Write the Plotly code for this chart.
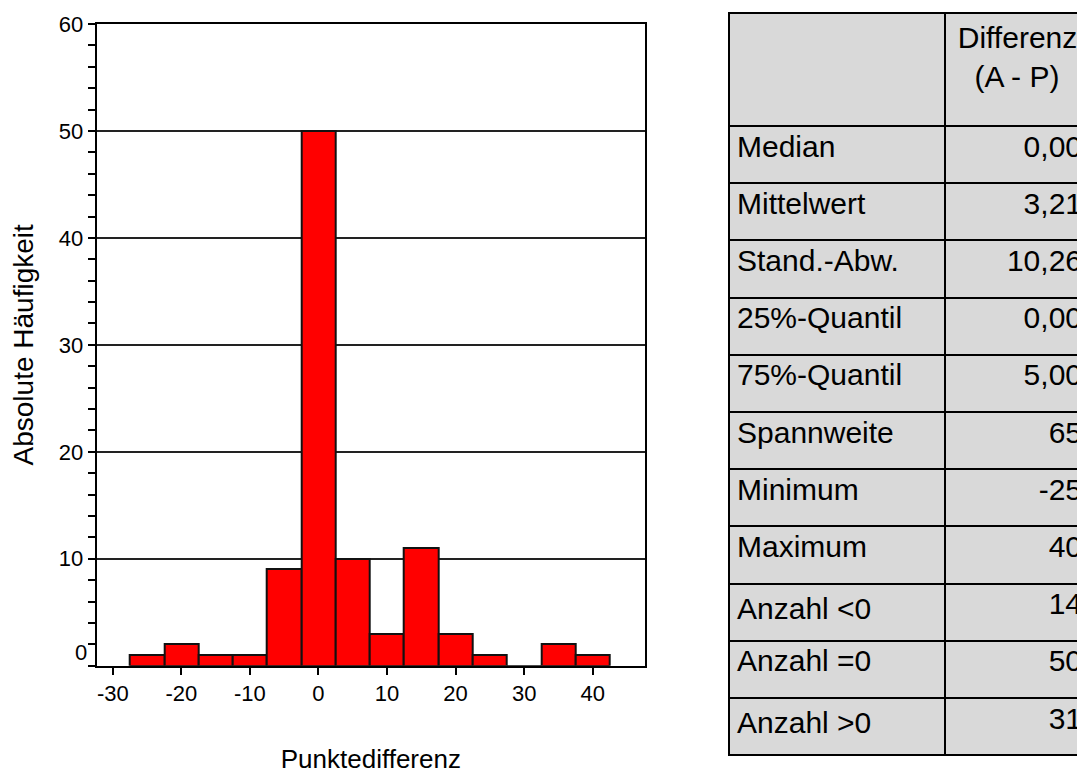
import plotly.graph_objects as go

# Histogram data (bin centres, width 5)
bin_centers = [-25, -20, -15, -10, -5, 0, 5, 10, 15, 20, 25, 30, 35, 40]
counts = [1, 2, 1, 1, 9, 50, 10, 3, 11, 3, 1, 0, 2, 1]
bin_width = 5

x_ticks = [-30, -20, -10, 0, 10, 20, 30, 40]
x_ticktext = ["-30", "-20", "-10", "0", "10", "20", "30", "40"]
y_major = [10, 20, 30, 40, 50, 60]

# Statistics table
stat_labels = ["Median", "Mittelwert", "Stand.-Abw.", "25%-Quantil", "75%-Quantil",
               "Spannweite", "Minimum", "Maximum", "Anzahl &lt;0", "Anzahl =0", "Anzahl &gt;0"]
stat_values = ["0,00", "3,21", "10,26", "0,00", "5,00", "65", "-25", "40", "14", "50", "31"]
table_header = ["", "Differenz<br>\u00a0\u00a0(A - P)"]

FONT = "Arial, Liberation Sans, sans-serif"
# The page body has an 8px margin: figure coords = viewport coords - 8
OFF = 8
W, H = 1082, 766


def px(xv):
    return (xv - OFF) / W


def py(yv):
    return 1 - (yv - OFF) / H


fig = go.Figure()
fig.add_trace(go.Bar(
    x=bin_centers, y=counts, width=[bin_width] * len(bin_centers),
    marker=dict(color="#ff0000", line=dict(color="#111111", width=2)),
    showlegend=False, hoverinfo="x+y",
))

fig.add_trace(go.Table(
    domain=dict(x=[px(729), 1.0], y=[0.0, py(13)]),
    columnwidth=[216, 145],
    header=dict(values=table_header, height=113, fill_color="#d9d9d9",
                line=dict(color="black", width=2), align=["left", "center"],
                font=dict(family=FONT, size=30, color="black")),
    cells=dict(values=[stat_labels, stat_values], height=57.2, fill_color="#d9d9d9",
               line=dict(color="black", width=2), align=["left", "right"],
               font=dict(family=FONT, size=30, color="black")),
))

fig.update_layout(
    width=W, height=H,
    margin=dict(l=0, r=0, t=0, b=0, autoexpand=False),
    paper_bgcolor="white", plot_bgcolor="white",
    bargap=0,
    font=dict(family=FONT, color="black"),
    xaxis=dict(
        domain=[px(96.7), px(645)], range=[-32.35, 47.63], automargin=False,
        tickvals=x_ticks, ticktext=x_ticktext,
        ticks="outside", ticklen=7, tickwidth=2, tickcolor="black",
        tickfont=dict(size=22, color="black"),
        showline=True, linecolor="black", linewidth=2, mirror=True,
        showgrid=False, zeroline=False,
        title=dict(text="Punktedifferenz", font=dict(size=26, color="black"), standoff=52),
    ),
    yaxis=dict(
        domain=[py(665.7), py(24)], range=[0, 60], automargin=False,
        tickvals=y_major, ticks="outside", ticklen=7, tickwidth=2, tickcolor="black",
        tickfont=dict(size=22, color="black"),
        minor=dict(dtick=2, tick0=0, ticks="outside", ticklen=7, tickwidth=2,
                   tickcolor="black", showgrid=False),
        showline=True, linecolor="black", linewidth=2, mirror=True,
        showgrid=True, gridcolor="#222222", gridwidth=2, zeroline=False,
        title=dict(text="Absolute Häufigkeit", font=dict(size=28, color="black"), standoff=24),
    ),
)

# the SPSS-style "0" label sits slightly above the baseline
fig.add_annotation(x=0, xref="x domain", xanchor="right", xshift=-8,
                   y=1.2, yref="y", yanchor="middle", text="0", showarrow=False,
                   font=dict(size=22, color="black"))

fig.write_html("out.html")
